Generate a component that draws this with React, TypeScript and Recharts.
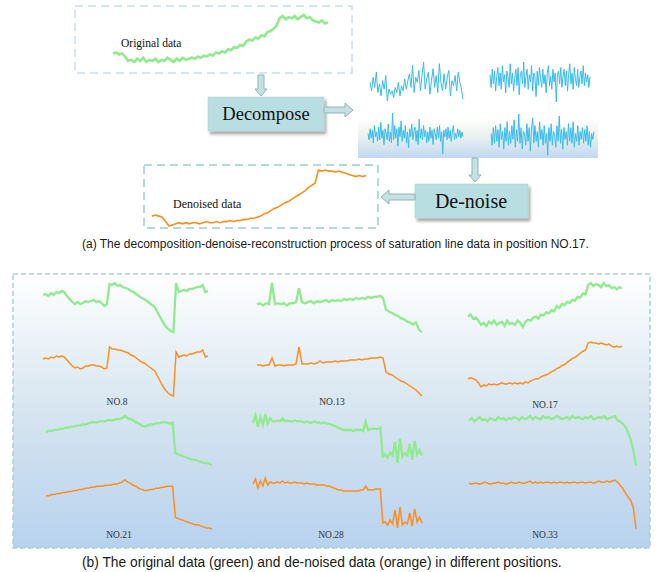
import React from "react";
import { LineChart, Line, XAxis, YAxis } from "recharts";

// (a) position NO.17: raw signal and reconstructed signal
const originalNo17 = [
  11, 12, 10, 11, 8, 4,
  5, 3, 6, 4, 7, 3, 5, 4, 6, 3, 5, 4, 7, 5, 3, 6, 4, 7, 5, 6,
  7, 6, 8, 7, 9, 8, 10, 9, 12, 11,
  13, 12, 15, 14, 17, 16, 19, 18, 22, 24,
  23, 26, 25, 28, 27, 31, 32, 34, 37,
  44, 46, 43, 45, 44, 46, 43, 45, 47, 44, 45,
  42, 41, 40, 42, 39, 40,
];
const denoisedNo17 = [
  11, 12, 11, 10,
  6, 2, 3,
  4, 5, 4, 5, 4, 5, 5, 4, 5, 6, 5, 5, 6, 5, 6, 6, 7, 6, 7, 7,
  8, 8, 9, 9, 10, 11, 13, 14, 16, 18, 19, 21, 23, 24, 26, 28, 30, 32, 34, 37, 39, 41,
  53, 52, 53, 52, 52, 51, 52, 51, 50,
  49, 48, 47, 48, 47, 48,
];

// decomposed components
const imf1 = [
  2, -3, 5, -1, 8, -4, 1, -6, 3, -2, 6, -9, -2, -5, -3, -7, -1, -4, 2, -6, 0, -3, 4, -2, 3, 7, -1, 12, -4, 5,
  2, 9, -3, 6, 14, -2, 4, 8, -5, 3, 10, -1, 6, -4, 13, 2, -3, 7, -2, 5, 9, -6, 3, 0, 6, -3, 8, 2, -2, -8,
];
const imf2 = [
  3, -4, 6, -2, 5, -6, 2, 7, -3, 4, -5, 8, -1, 3, -7, 5, 2, -4, 9, -2, 4, -6, 1, 6, -3, 7, -8, 3, 5, -2,
  10, -4, 2, 6, -5, 3, -1, 8, -6, 4, 2, -9, 5, -3, 7, 1, -4, 6, -2, 3, -7, 4, 8, -3, 2, -5, 6, -1, 4, -12,
  3, 5, -2, 7, -4, 2, 6, -3, 5, -6, 3, 9, -2, 4, -5, 7, 1, -3, 6, -4, 2, 5, -2, 8, -3, 4, -1, 3, -4, 2,
];
const imf3 = [
  1, -3, 4, -2, 3, -5, 6, -1, 2, -4, 5, -3, 8, -2, 3, -6, 4, 1, -3, 7, -4, 2, -5, 14, -3, 6, -2, 4, -7, 5,
  -1, 9, -4, 3, -2, 6, -5, 2, -8, 4, -1, 7, -3, 2, 5, -4, 3, -6, 10, -2, 4, -3, 6, -1, 3, -5, 2, -4, 5, -2,
  3, -6, 4, 1, -3, 5, -2, 6, -4, 2, -12, 3, -1, 4, -3, 5, -2, 3, -4, 2, 6, -3, 1, -2, 4, -1, 3, -2, 2, -1,
];
const imf4 = [
  2, -4, 5, -3, 6, -2, 4, -5, 7, -1, 3, -6, 5, -2, 8, -4, 3, -3, 6, -1, 9, -5, 4, -2, 12, -3, 5, -6, 3, 2,
  -4, 7, -2, 5, -7, 4, 10, -3, 6, -2, 3, -5, 8, -1, 4, -4, 6, -3, 2, -9, 5, -2, 7, -4, 3, 1, -5, 6, -2, 11,
  -3, 4, -6, 5, -1, 3, -4, 7, -2, 5, -3, 8, -5, 2, -2, 6, -4, 3, -1, 5, -3, 4, -2, 6, -4, 3, -5, 2, -1, 3,
];

// (b) raw (green) and de-noised (orange) per position
const rawNo8 = [
  37, 38, 36, 39, 37, 40, 39, 41, 40, 36, 33, 30, 28, 30, 28, 29, 31, 30, 31, 32, 30, 31, 29, 26, 28,
  48, 47, 49, 46, 47, 45, 44, 43, 41, 40, 38, 36, 34, 33, 31, 29, 27, 25, 20, 15, 10, 6, 3, 1, 0,
  49, 40, 41, 42, 41, 43, 43, 44, 45, 45, 47, 40, 41,
];
const cleanNo8 = [
  37, 38, 37, 39, 38, 40, 39, 40, 39, 36, 33, 30, 28, 29, 27, 28, 30, 30, 31, 31, 30, 30, 29, 27, 28,
  49, 47, 47, 46, 46, 45, 44, 43, 41, 40, 38, 36, 34, 33, 31, 29, 27, 25, 20, 15, 10, 6, 3, 1, 0,
  44, 39, 40, 41, 40, 42, 42, 43, 44, 44, 46, 39, 40,
];
const rawNo13 = [
  29, 30, 28, 30, 29, 49, 29, 30, 29, 30, 28, 30, 30, 31, 44, 31, 30, 31, 32, 30, 32, 31, 32, 33, 31, 33, 32, 33,
  32, 34, 33, 34, 33, 35, 34, 35, 34, 36, 35, 36, 36, 37, 35, 24, 22, 21, 19, 18, 16, 15, 13, 12, 10, 12, 5, 3,
];
const cleanNo13 = [
  31, 31, 30, 31, 31, 38, 30, 31, 31, 30, 31, 31, 31, 32, 49, 32, 32, 32, 33, 32, 33, 35, 33, 34, 34, 34, 35, 34,
  35, 35, 35, 36, 36, 36, 37, 36, 37, 37, 38, 38, 38, 39, 38, 24, 22, 21, 19, 17, 15, 14, 12, 10, 8, 6, 3, 0,
];
const rawNo17 = [
  12, 14, 10, 11, 8, 4, 6, 3, 7, 5, 8, 4, 6, 7, 3, 8, 5, 6, 4, 8, 6, 2, 7, 9, 8, 11, 12, 10, 14, 13,
  16, 15, 18, 17, 22, 20, 24, 23, 26, 25, 28, 27, 31, 30, 34, 33, 42, 44, 41, 43, 42, 40, 44, 41, 42, 39, 40, 38, 40, 39,
];
const cleanNo17 = [
  9, 10, 9, 8, 5, 1, 3, 2, 4, 3, 4, 3, 4, 5, 4, 4, 5, 4, 5, 4, 5, 4, 6, 5, 7, 8, 9, 9, 11, 12,
  13, 14, 16, 17, 19, 20, 22, 23, 25, 27, 29, 30, 32, 34, 36, 37, 44, 45, 44, 44, 43, 44, 43, 42, 43, 41, 40, 41, 40, 41,
];
const rawNo21 = [
  33, 34, 34, 35, 35, 36, 36, 37, 37, 38, 38, 39, 39, 40, 40, 41, 42, 42, 42, 43, 43, 43, 44, 44, 44, 45, 45, 46, 48, 46,
  45, 44, 42, 41, 39, 38, 39, 40, 40, 41, 41, 42, 42, 42, 41, 42, 13, 12, 11, 10, 9, 8, 7, 7, 6, 5, 4, 4, 3, 2,
];
const cleanNo21 = [
  33, 33, 34, 34, 35, 35, 36, 36, 37, 37, 38, 38, 39, 39, 40, 40, 41, 41, 42, 42, 42, 43, 43, 43, 44, 44, 45, 46, 48, 46,
  45, 43, 42, 40, 39, 38, 38, 39, 39, 40, 40, 41, 41, 42, 42, 42, 12, 11, 10, 9, 8, 7, 6, 5, 5, 4, 3, 2, 2, 1,
];
const rawNo28 = [
  40, 47, 36, 45, 38, 48, 39, 44, 41,
  41, 42, 41, 44, 41, 42, 41, 41, 42, 41,
  41, 41, 40, 41, 40, 40, 41, 40, 40, 39, 40, 39, 39,
  38, 37, 36, 35, 34, 33, 33,
  33, 33, 32, 33, 33, 33, 32, 41,
  33, 34, 34, 34, 34, 35,
  8, 10, 7, 12, 9, 22, 2, 25, 8, 11, 9, 20, 5, 23, 10, 14, 9,
];
const cleanNo28 = [
  44, 49, 40, 47, 42, 50, 43, 46, 45,
  45, 46, 45, 47, 45, 46, 45, 45, 46, 45,
  45, 45, 44, 45, 44, 44, 44, 43, 43, 43, 43, 42, 42,
  41, 40, 39, 38, 38, 37, 37,
  37, 37, 37, 37, 37, 38, 38, 42,
  38, 38, 38, 39, 39, 39,
  5, 6, 3, 8, 4, 18, 0, 21, 3, 6, 4, 15, 2, 19, 6, 11, 5,
];
const rawNo33 = [
  42, 44, 41, 43, 45, 42, 43, 41, 44, 43, 42, 45, 43, 44, 42, 44, 43, 45, 44, 42,
  45, 43, 44, 46, 43, 45, 44, 43, 46, 44, 45, 43, 44, 46, 45, 43, 44, 45, 43, 46,
  44, 45, 44, 43, 45, 44, 46, 43, 44, 45, 44, 46, 43, 44, 45, 46, 42, 41, 39, 36,
  31, 24, 14, 0,
];
const cleanNo33 = [
  43, 42, 43, 43, 42, 43, 44, 43, 42, 43, 43, 44, 43, 43, 42, 43, 44, 43, 43, 44,
  43, 43, 44, 45, 43, 44, 43, 44, 43, 44, 44, 43, 44, 43, 44, 44, 43, 44, 43, 44,
  44, 43, 44, 44, 43, 44, 44, 43, 44, 45, 44, 44, 45, 44, 45, 46, 44, 41, 38, 34,
  30, 27, 20, 0,
];

const positionLabels = ["NO.8", "NO.13", "NO.17", "NO.21", "NO.28", "NO.33"];

const GREEN = "#92ea8e";
const ORANGE = "#ff8d1c";
const IMF_BLUE = "#38bcee";
const SERIF = "'Liberation Serif', 'DejaVu Serif', serif";
const SANS = "'Liberation Sans', Arial, sans-serif";

type Box = [number, number, number, number];

function Trace({ values, color, box, w = 1.5 }: { values: number[]; color: string; box: Box; w?: number }) {
  const [x0, y0, x1, y1] = box;
  const pad = 2;
  const rows = values.map((v, i) => ({ i, v }));
  return (
    <div style={{ position: "absolute", left: x0 - pad, top: y0 - pad }}>
      <LineChart
        width={x1 - x0 + pad * 2}
        height={y1 - y0 + pad * 2}
        data={rows}
        margin={{ top: pad, right: pad, bottom: pad, left: pad }}
      >
        <XAxis dataKey="i" type="number" domain={["dataMin", "dataMax"]} hide />
        <YAxis type="number" domain={["dataMin", "dataMax"]} hide />
        <Line type="linear" dataKey="v" stroke={color} strokeWidth={w} dot={false} isAnimationActive={false} />
      </LineChart>
    </div>
  );
}

const panels: { raw: number[]; clean: number[]; g: Box; o: Box; label: [number, number] }[] = [
  { raw: rawNo8, clean: cleanNo8, g: [43, 283, 208, 332], o: [43, 347, 208, 396], label: [117, 405] },
  { raw: rawNo13, clean: cleanNo13, g: [257, 283, 422, 332], o: [257, 347, 422, 396], label: [332, 405] },
  { raw: rawNo17, clean: cleanNo17, g: [468, 283, 622, 327], o: [468, 342, 622, 387], label: [545, 408] },
  { raw: rawNo21, clean: cleanNo21, g: [46, 416, 212, 465], o: [46, 480, 212, 529], label: [119, 538] },
  { raw: rawNo28, clean: cleanNo28, g: [253, 414, 422, 463], o: [253, 478, 422, 528], label: [331, 538] },
  { raw: rawNo33, clean: cleanNo33, g: [469, 416, 636, 466], o: [469, 480, 636, 529], label: [545, 538] },
];

const arrowFill = "#c5e2e3";
const arrowStroke = "#8fb4b9";

function DownArrow({ cx, y0, y1 }: { cx: number; y0: number; y1: number }) {
  const h = y1 - 7;
  const pts = `${cx - 3},${y0} ${cx + 3},${y0} ${cx + 3},${h} ${cx + 6},${h} ${cx},${y1} ${cx - 6},${h} ${cx - 3},${h}`;
  return <polygon points={pts} fill={arrowFill} stroke={arrowStroke} strokeWidth={1} />;
}

function HArrow({ x0, x1, cy }: { x0: number; x1: number; cy: number }) {
  const dir = x1 > x0 ? 1 : -1;
  const h = x1 - dir * 8;
  const pts = `${x0},${cy - 3} ${h},${cy - 3} ${h},${cy - 7} ${x1},${cy} ${h},${cy + 7} ${h},${cy + 3} ${x0},${cy + 3}`;
  return <polygon points={pts} fill={arrowFill} stroke={arrowStroke} strokeWidth={1} />;
}

export default function App() {
  return (
    <div style={{ position: "absolute", left: 0, top: 0, width: 667, height: 572, background: "#fff", overflow: "hidden" }}>
      <svg width={667} height={572} style={{ position: "absolute", left: 0, top: 0 }}>
        <defs>
          <linearGradient id="panelBg" x1="0" y1="0" x2="0" y2="1">
            <stop offset="0" stopColor="#ffffff" />
            <stop offset="0.5" stopColor="#d6e5f0" />
            <stop offset="1" stopColor="#b8d2ee" />
          </linearGradient>
          <linearGradient id="imfBg" x1="0" y1="0" x2="0" y2="1">
            <stop offset="0" stopColor="#ffffff" />
            <stop offset="0.4" stopColor="#eef3ee" />
            <stop offset="1" stopColor="#c1d8f2" />
          </linearGradient>
          <filter id="shadow" x="-10%" y="-10%" width="130%" height="140%">
            <feDropShadow dx="2" dy="3" stdDeviation="1.5" floodColor="#000" floodOpacity="0.35" />
          </filter>
        </defs>

        {/* (a) flow diagram */}
        <rect x={75} y={6} width={277} height={67} fill="none" stroke="#d4e5f6" strokeWidth={2} strokeDasharray="8 5" />
        <text x={121} y={47} fontFamily={SERIF} fontSize={11.5} fill="#111">Original data</text>
        <DownArrow cx={261} y0={75} y1={96} />
        <rect x={208} y={97} width={116} height={34} fill="#b8dee1" stroke="#a9cfd3" strokeWidth={0.5} filter="url(#shadow)" />
        <text x={266} y={120} textAnchor="middle" fontFamily={SERIF} fontSize={18.5} fill="#111">Decompose</text>
        <HArrow x0={324} x1={353} cy={110} />

        <rect x={358} y={118} width={240} height={40} fill="url(#imfBg)" />
        <DownArrow cx={475} y0={158} y1={182} />
        <rect x={415} y={184} width={113} height={34} fill="#b8dee1" stroke="#a9cfd3" strokeWidth={0.5} filter="url(#shadow)" />
        <text x={471} y={208} textAnchor="middle" fontFamily={SERIF} fontSize={20} fill="#111">De-noise</text>
        <HArrow x0={415} x1={381} cy={197} />

        <rect x={144} y={165} width={234} height={63} fill="none" stroke="#b3dada" strokeWidth={2} strokeDasharray="8 5" />
        <text x={173} y={208} fontFamily={SERIF} fontSize={12} fill="#111">Denoised data</text>

        <text x={82} y={248} fontFamily={SANS} fontSize={12} fill="#1a1a1a">
          (a) The decomposition-denoise-reconstruction process of saturation line data in position NO.17.
        </text>

        {/* (b) grid of positions */}
        <rect x={13} y={274} width={637} height={274} fill="url(#panelBg)" stroke="#a8d3d8" strokeWidth={1.5} strokeDasharray="5 3" />
        {panels.map((p, k) => (
          <text key={k} x={p.label[0]} y={p.label[1]} textAnchor="middle" fontFamily={SERIF} fontSize={9.5} fill="#333">
            {positionLabels[k]}
          </text>
        ))}
        <text x={82} y={567} fontFamily={SANS} fontSize={13.8} fill="#1a1a1a">
          (b) The original data (green) and de-noised data (orange) in different positions.
        </text>
      </svg>

      <Trace values={originalNo17} color={GREEN} box={[113, 15, 328, 62]} w={2.6} />
      <Trace values={denoisedNo17} color={ORANGE} box={[152, 170, 366, 226]} w={1.6} />
      <Trace values={imf1} color={IMF_BLUE} box={[370, 62, 463, 101]} w={1} />
      <Trace values={imf2} color={IMF_BLUE} box={[490, 62, 590, 102]} w={1} />
      <Trace values={imf3} color={IMF_BLUE} box={[368, 113, 463, 154]} w={1} />
      <Trace values={imf4} color={IMF_BLUE} box={[491, 114, 594, 155]} w={1} />

      {panels.map((p, k) => (
        <React.Fragment key={k}>
          <Trace values={p.raw} color={GREEN} box={p.g} w={2.3} />
          <Trace values={p.clean} color={ORANGE} box={p.o} w={1.5} />
        </React.Fragment>
      ))}
    </div>
  );
}
